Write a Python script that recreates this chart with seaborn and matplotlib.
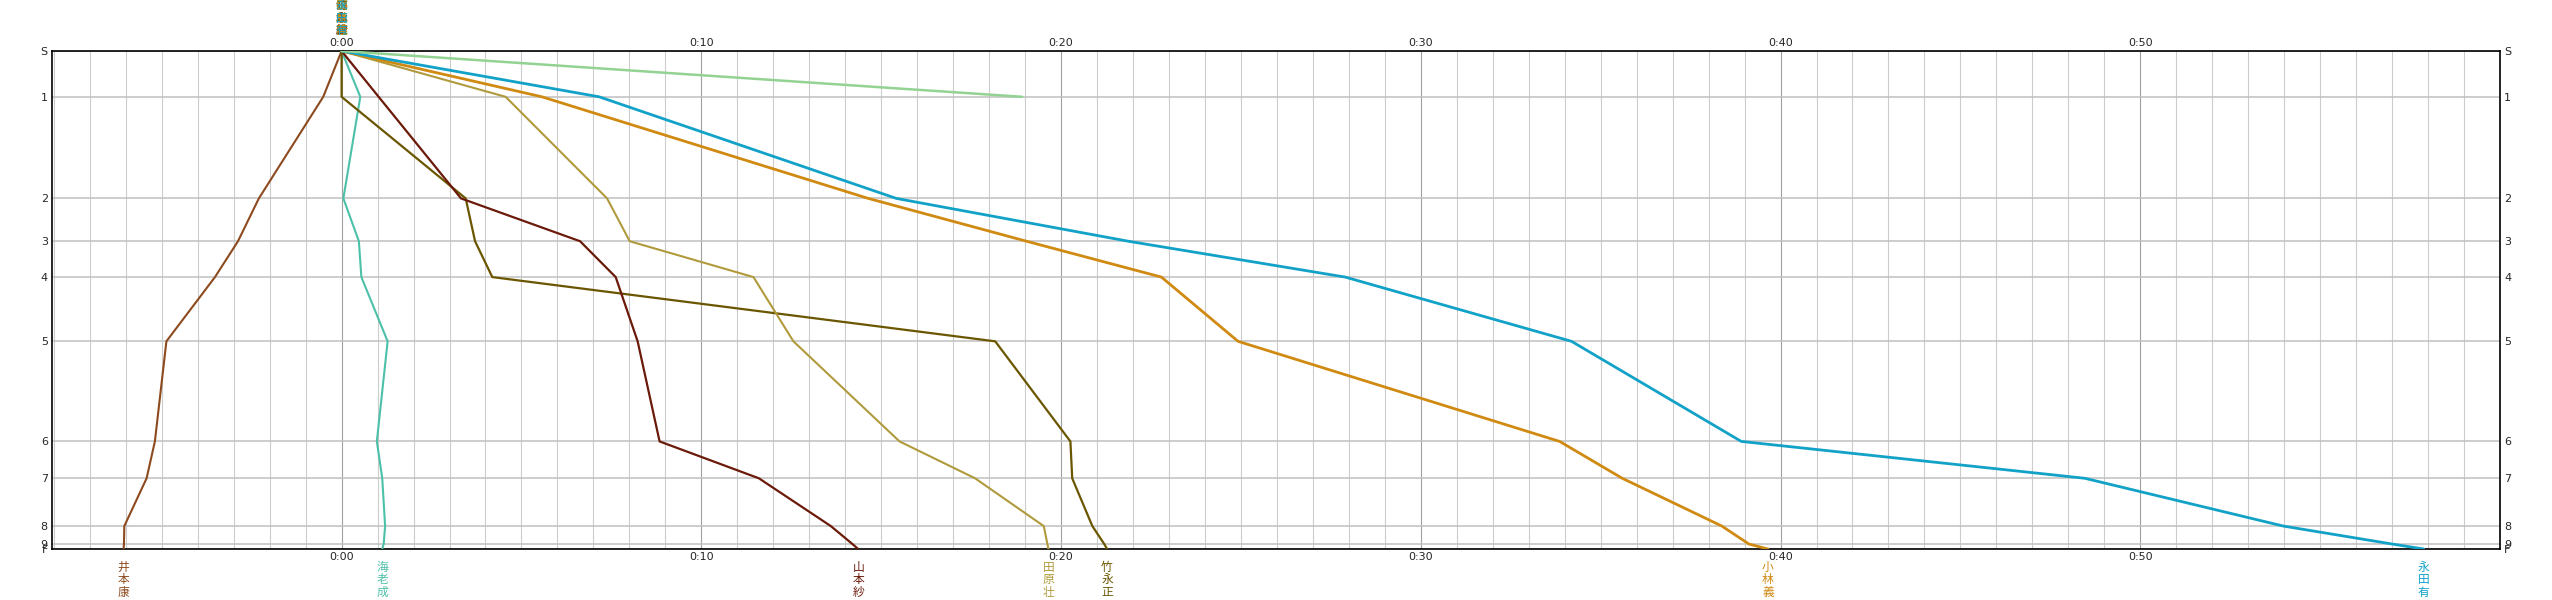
import matplotlib
matplotlib.use("Agg")
import matplotlib.pyplot as plt
import matplotlib.transforms as mtransforms
import seaborn as sns
import pandas as pd
import numpy as np

# ---- data ----
stations = ["S", "1", "2", "3", "4", "5", "6", "7", "8", "9", "F"]
station_pos = [0.0, 0.092, 0.296, 0.382, 0.454, 0.583, 0.784, 0.858, 0.954, 0.990, 1.0]

names = ["井本康", "海老成", "竹永正", "山本紗", "田原壮", "小林義", "永田有", ""]
colors = ["#8C4A1E", "#4CC0A8", "#6B5600", "#6B1A0A", "#B09A3C", "#D08A12", "#12A2C8", "#92D292"]

t_inomoto = [0, -0.51, -2.30, -2.88, -3.52, -4.87, -5.19, -5.42, -6.04, -6.05, -6.06]
t_ebi = [0, 0.52, 0.05, 0.48, 0.55, 1.28, 0.98, 1.13, 1.21, 1.17, 1.13]
t_takenaga = [0, 0.0, 3.45, 3.71, 4.19, 18.17, 20.26, 20.31, 20.87, 21.2, 21.28]
t_yamamoto = [0, 1.03, 3.32, 6.63, 7.62, 8.23, 8.84, 11.6, 13.6, 14.2, 14.36]
t_tahara = [0, 4.56, 7.38, 8.01, 11.45, 12.56, 15.51, 17.61, 19.52, 19.62, 19.65]
t_kobayashi = [0, 5.57, 14.64, 19.04, 22.79, 24.92, 33.86, 35.6, 38.37, 39.12, 39.65]
t_nagata = [0, 7.16, 15.42, 21.87, 27.9, 34.19, 38.91, 48.46, 53.98, 57.0, 57.88]
t_green = [0, 18.92]

series = [t_inomoto, t_ebi, t_takenaga, t_yamamoto, t_tahara, t_kobayashi, t_nagata, t_green]
widths = [1.5, 1.5, 1.6, 1.6, 1.5, 2.0, 2.0, 1.8]

x_ticks = [0, 10, 20, 30, 40, 50]
x_tick_labels = ["0:00", "0:10", "0:20", "0:30", "0:40", "0:50"]
xmin, xmax = -8.05, 60.0

# ---- figure ----
sns.set_theme(style="white")
plt.rcParams["font.family"] = ["DejaVu Sans"]
cjk = ["Noto Sans CJK JP", "DejaVu Sans"]

W, H = 2552, 600
fig = plt.figure(figsize=(W / 100, H / 100), dpi=100)
ax = fig.add_axes([52 / W, 1 - 549 / H, (2500 - 52) / W, (549 - 51) / H])

# grid
for m in range(int(np.ceil(xmin)), int(xmax) + 1):
    major = (m % 10 == 0)
    ax.axvline(m, color="#a0a0a0" if major else "#cccccc", lw=0.8, zorder=0)
for p in station_pos:
    ax.axhline(p, color="#c0c0c0", lw=1.1, zorder=0)

for i, (ts, nm, c, lw) in enumerate(zip(series, names, colors, widths)):
    df = pd.DataFrame({"time": ts, "pos": station_pos[:len(ts)]})
    sns.lineplot(data=df, x="time", y="pos", sort=False, estimator=None,
                 color=c, lw=lw, ax=ax, zorder=3 + i)

ax.set_xlim(xmin, xmax)
ax.set_ylim(1.0, 0.0)
ax.set_xlabel("")
ax.set_ylabel("")

ax.set_xticks(x_ticks)
ax.set_xticklabels(x_tick_labels)
ax.set_yticks(station_pos)
ax.set_yticklabels(stations)
ax.tick_params(axis="x", which="both", length=0, pad=2, labelsize=8,
               top=True, labeltop=True, bottom=True, labelbottom=True)
ax.tick_params(axis="y", which="both", length=0, pad=3, labelsize=8,
               left=True, labelleft=True, right=True, labelright=True)
for s in ax.spines.values():
    s.set_color("black")
    s.set_linewidth(1.2)

trans = mtransforms.blended_transform_factory(ax.transData, ax.transAxes)
# finisher names below axis
for ts, nm, c in zip(series, names, colors):
    if nm and len(ts) == len(station_pos):
        ax.text(ts[-1], -0.024, "\n".join(nm), transform=trans, ha="center", va="top",
                color=c, fontsize=8.5, family=cjk, linespacing=0.95)
# starting names stacked at top
for ts, nm, c in zip(series, names, colors):
    if nm:
        ax.text(0, 1.028, "\n".join(nm), transform=trans, ha="center", va="bottom",
                color=c, fontsize=8.5, family=cjk, linespacing=0.95)

fig.savefig("out.png", dpi=100)
